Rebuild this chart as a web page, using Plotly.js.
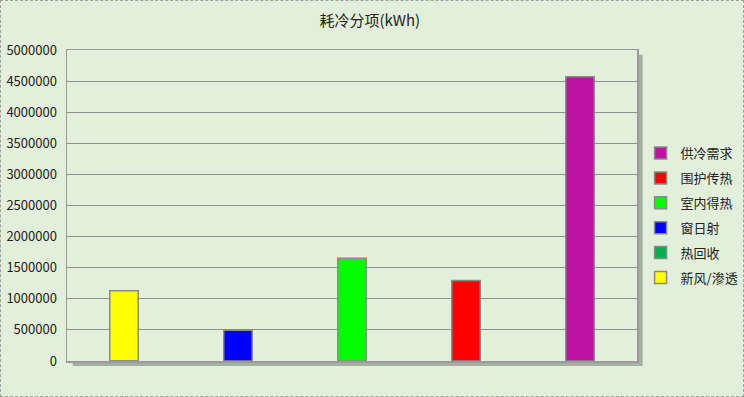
<!DOCTYPE html>
<html>
<head>
<meta charset="utf-8">
<script src="https://cdn.plot.ly/plotly-3.0.1.min.js"></script>
<style>
  html, body { margin: 0; padding: 0; background: #E2EFDA; }
  #wrap { position: relative; width: 744px; height: 397px; }
  #chart { width: 744px; height: 397px; }
  #frame { position: absolute; left: 0; top: 0; width: 742px; height: 395px; border: 1px dashed #a0a0a0; pointer-events: none; }
</style>
</head>
<body>
<div id="wrap"><div id="chart"></div><div id="frame"></div></div>
<script>
// Series (one bar per series), in drawing order
const seriesNames = ['新风/渗透', '热回收', '窗日射', '室内得热', '围护传热', '供冷需求'];
const seriesValues = [1130000, 0, 495000, 1650000, 1295000, 4570000];
const seriesColors = ['#FFFF00', '#00B050', '#0000FF', '#00FF00', '#FF0000', '#BD12A2'];
const yTickVals = [0, 500000, 1000000, 1500000, 2000000, 2500000, 3000000, 3500000, 4000000, 4500000, 5000000];
const chartTitle = '耗冷分项(kWh)';

const FONT = '"Noto Sans CJK SC", "Noto Sans", sans-serif';
const slots = seriesNames.filter((n, i) => seriesValues[i] > 0);

const traces = seriesNames.map((name, i) => ({
  type: 'bar',
  name: name,
  x: [seriesValues[i] > 0 ? name : slots[0]],
  y: [seriesValues[i]],
  width: 0.25,
  legendgroup: 'g' + i,
  legendrank: 1000 - i,
  marker: { color: seriesColors[i], line: { color: '#8a8a8a', width: 1.5 } },
  hoverinfo: 'y+name'
}));

const layout = {
  width: 744, height: 397,
  margin: { l: 67, r: 107, t: 50, b: 36 },
  paper_bgcolor: '#E2EFDA',
  plot_bgcolor: '#E2EFDA',
  font: { family: FONT, size: 13, color: '#222' },
  title: { text: chartTitle, font: { family: FONT, size: 15, color: '#222' }, x: 0.497, xanchor: 'center', y: 0.948, yanchor: 'middle', yref: 'container' },
  barmode: 'overlay',
  showlegend: true,
  legend: {
    xref: 'container', yref: 'container',
    x: 0.861, xanchor: 'left', y: 0.457, yanchor: 'middle',
    traceorder: 'grouped', tracegroupgap: 5,
    bgcolor: 'rgba(0,0,0,0)', font: { family: FONT, size: 13, color: '#222' },
    itemwidth: 30
  },
  xaxis: {
    type: 'category', categoryorder: 'array', categoryarray: slots,
    range: [-0.5, slots.length - 0.5],
    showticklabels: false, ticks: '', showgrid: false, zeroline: false,
    showline: true, linecolor: '#9a9a9a', linewidth: 1.5, mirror: true, fixedrange: true
  },
  yaxis: {
    range: [0, 5000000], tickmode: 'array', tickvals: yTickVals, ticktext: yTickVals.map(String),
    showgrid: true, gridcolor: '#8f8f8f', gridwidth: 1, zeroline: false,
    showline: true, linecolor: '#9a9a9a', linewidth: 1.5, mirror: true,
    ticks: 'outside', ticklen: 6, tickcolor: 'rgba(0,0,0,0)',
    tickfont: { family: FONT, size: 13, color: '#222' }, fixedrange: true
  },
  shapes: [
    { type: 'rect', xref: 'paper', yref: 'paper', x0: 1.001, x1: 1.010, y0: -0.016, y1: 0.985, line: { width: 0 }, fillcolor: 'rgba(90,100,90,0.45)', layer: 'below' },
    { type: 'rect', xref: 'paper', yref: 'paper', x0: 0.01, x1: 1.001, y0: -0.016, y1: -0.002, line: { width: 0 }, fillcolor: 'rgba(90,100,90,0.45)', layer: 'below' }
  ]
};

Plotly.newPlot('chart', traces, layout, { displayModeBar: false, staticPlot: true });
</script>
</body>
</html>
